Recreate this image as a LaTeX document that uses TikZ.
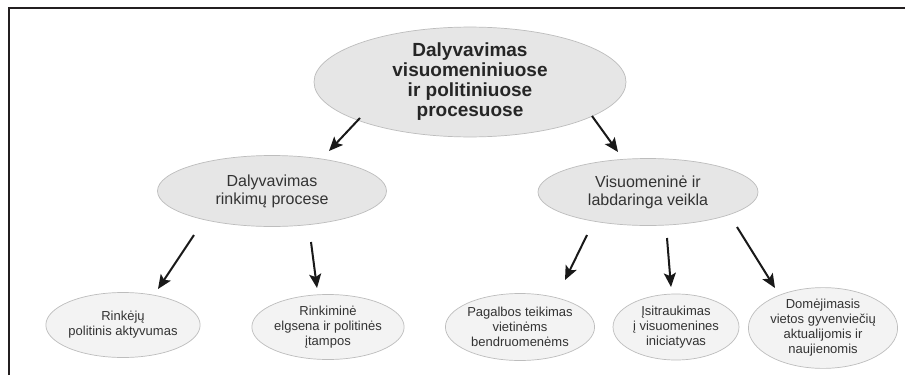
\documentclass[tikz,border=0pt]{standalone}
\usepackage{fontspec}
\setmainfont{Liberation Sans}
\usetikzlibrary{arrows.meta,shapes.geometric}
\definecolor{framec}{HTML}{231F20}
\definecolor{bigfill}{HTML}{E6E6E6}
\definecolor{smallfill}{HTML}{F3F3F3}
\definecolor{edgec}{HTML}{BDBDBD}
\tikzset{
  bigell/.style={ellipse, draw=edgec, line width=0.7pt, fill=bigfill, align=center, inner sep=0pt},
  smallell/.style={ellipse, draw=edgec, line width=0.7pt, fill=smallfill, align=center, inner sep=0pt},
  arr/.style={line width=2pt, draw=black!90, -{Stealth[length=14pt,width=12pt,inset=3pt]}},
}
\begin{document}
\begin{tikzpicture}[x=1pt,y=-1pt]
\useasboundingbox (0,0) rectangle (905,375);
\fill[white] (0,0) rectangle (905,375);
% frame
\draw[framec, line width=2.5pt] (9,375) -- (9,8) -- (905,8);
% top
\node[bigell, minimum width=312pt, minimum height=95pt, font=\fontsize{19}{20}\selectfont\bfseries, text=black!85] (top) at (470,82)
  {Dalyvavimas\\visuomeniniuose\\ir politiniuose\\procesuose};
% middle
\node[bigell, minimum width=229pt, minimum height=71pt, font=\fontsize{16}{18}\selectfont, text=black!80] (ml) at (272,191)
  {Dalyvavimas\\rinkimų procese};
\node[bigell, minimum width=220pt, minimum height=67pt, font=\fontsize{16}{18}\selectfont, text=black!80] (mr) at (648,192)
  {Visuomeninė ir\\labdaringa veikla};
% bottom
\tikzset{btxt/.style={font=\fontsize{13}{15}\selectfont, text=black!80}}
\node[smallell, btxt, minimum width=127pt, minimum height=65pt] (b1) at (123,325)
  {Rinkėjų\\politinis aktyvumas};
\node[smallell, btxt, minimum width=127pt, minimum height=65pt] (b2) at (328,327)
  {Rinkiminė\\elgsena ir politinės\\įtampos};
\node[smallell, btxt, minimum width=140pt, minimum height=67pt] (b3) at (520,327)
  {Pagalbos teikimas\\vietinėms\\bendruomenėms};
\node[smallell, btxt, minimum width=126pt, minimum height=66pt] (b4) at (676,327)
  {Įsitraukimas\\į visuomenines\\iniciatyvas};
\node[smallell, btxt, minimum width=141pt, minimum height=69pt] (b5) at (823,328)
  {Domėjimasis\\vietos gyvenviečių\\aktualijomis ir\\naujienomis};
% arrow endpoints
\coordinate (a1s) at (360,118); \coordinate (a1e) at (329,151);
\coordinate (a2s) at (592,116); \coordinate (a2e) at (618,152);
\coordinate (a3s) at (194,235); \coordinate (a3e) at (158,289);
\coordinate (a4s) at (311,242); \coordinate (a4e) at (317,288);
\coordinate (a5s) at (587,235); \coordinate (a5e) at (565,280);
\coordinate (a6s) at (667,238); \coordinate (a6e) at (671,287);
\coordinate (a7s) at (737,227); \coordinate (a7e) at (775,288);
\draw[arr] (a1s) -- (a1e);
\draw[arr] (a2s) -- (a2e);
\draw[arr] (a3s) -- (a3e);
\draw[arr] (a4s) -- (a4e);
\draw[arr] (a5s) -- (a5e);
\draw[arr] (a6s) -- (a6e);
\draw[arr] (a7s) -- (a7e);
\end{tikzpicture}
\end{document}
